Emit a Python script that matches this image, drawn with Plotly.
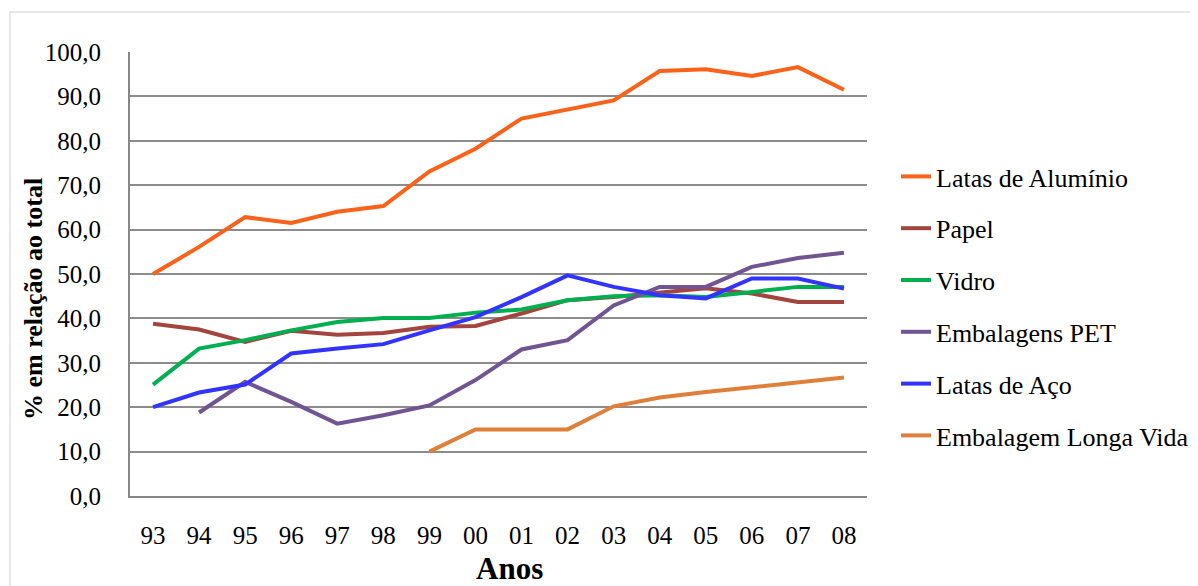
import plotly.graph_objects as go

anos = ["93", "94", "95", "96", "97", "98", "99", "00", "01", "02", "03", "04", "05", "06", "07", "08"]

latas_aluminio = [50.0, 56.1, 62.8, 61.5, 64.0, 65.3, 73.1, 78.2, 85.0, 87.1, 89.1, 95.7, 96.1, 94.6, 96.6, 91.5]
papel = [38.8, 37.5, 34.7, 37.2, 36.3, 36.7, 38.1, 38.3, 41.1, 44.1, 44.8, 45.9, 46.8, 45.6, 43.7, 43.7]
vidro = [25.1, 33.2, 35.1, 37.3, 39.2, 40.1, 40.1, 41.3, 42.0, 44.1, 45.0, 45.2, 44.8, 45.9, 47.1, 47.1]
embalagens_pet = [None, 18.8, 25.7, 21.2, 16.3, 18.2, 20.4, 26.1, 33.0, 35.1, 42.9, 47.1, 47.1, 51.6, 53.6, 54.8]
latas_aco = [20.0, 23.3, 25.1, 32.1, 33.2, 34.2, 37.3, 40.3, 44.8, 49.7, 47.1, 45.2, 44.5, 49.0, 49.0, 46.7]
longa_vida = [None, None, None, None, None, None, 10.0, 15.0, 15.0, 15.0, 20.2, 22.2, 23.4, 24.5, 25.8, 26.7]

series = [
    ("Latas de Alumínio", latas_aluminio, "#FA6119"),
    ("Papel", papel, "#A3443F"),
    ("Vidro", vidro, "#00B050"),
    ("Embalagens PET", embalagens_pet, "#705592"),
    ("Latas de Aço", latas_aco, "#3333FF"),
    ("Embalagem Longa Vida", longa_vida, "#DF803A"),
]

FONT = "Liberation Serif"

# page body has an 8px margin: work in reference pixel coords, shift by -8
OFF = 8
W, H = 1198 - OFF, 586 - OFF
L, R, T, B = 130 - OFF, 867 - OFF, 52 - OFF, 496 - OFF
PW, PH = R - L, B - T


def px(xr):
    return (xr - OFF - L) / PW


def py(yr):
    return (B - (yr - OFF)) / PH


fig = go.Figure()
for i, (name, vals, color) in enumerate(series):
    fig.add_trace(go.Scatter(
        x=anos, y=vals, name=name, mode="lines",
        line=dict(color=color, width=4),
        legendgroup=f"g{i}",
        connectgaps=False,
    ))

fig.update_layout(
    width=W, height=H,
    paper_bgcolor="white", plot_bgcolor="white",
    margin=dict(l=L, r=W - R, t=T, b=H - B, autoexpand=False),
    separators=",.",
    font=dict(family=FONT, size=25, color="black"),
    showlegend=True,
    legend=dict(
        x=px(896), xanchor="left", y=py(306), yanchor="middle",
        font=dict(family=FONT, size=26, color="black"),
        tracegroupgap=15, traceorder="grouped",
        bgcolor="rgba(0,0,0,0)",
    ),
    xaxis=dict(
        type="category", showgrid=False, showline=True, linecolor="#878787", linewidth=2,
        ticks="outside", ticklen=16, tickcolor="rgba(0,0,0,0)",
        tickfont=dict(family=FONT, size=25, color="black"),
        range=[-0.5, 15.5], fixedrange=True, automargin=False,
    ),
    yaxis=dict(
        range=[0, 100], dtick=10, tickformat=".1f",
        showgrid=True, gridcolor="#8c8c8c", gridwidth=1.5,
        showline=True, linecolor="#878787", linewidth=2,
        mirror=False, zeroline=False,
        ticks="outside", ticklen=22, tickcolor="rgba(0,0,0,0)",
        tickfont=dict(family=FONT, size=25, color="black"),
        automargin=False,
    ),
    annotations=[
        dict(text="<b>% em relação ao total</b>", xref="paper", yref="paper",
             x=px(33), y=py(299), xanchor="center", yanchor="middle", textangle=-90,
             showarrow=False, font=dict(family=FONT, size=26, color="black")),
        dict(text="<b>Anos</b>", xref="paper", yref="paper",
             x=px(509), y=py(568), xanchor="center", yanchor="middle",
             showarrow=False, font=dict(family=FONT, size=31, color="black")),
    ],
    shapes=[
        dict(type="rect", xref="paper", yref="paper",
             x0=px(10), x1=px(1250), y0=py(600), y1=py(12),
             line=dict(color="#D0D0D0", width=1), fillcolor="rgba(0,0,0,0)", layer="below"),
    ],
)

fig.write_html("out.html")
